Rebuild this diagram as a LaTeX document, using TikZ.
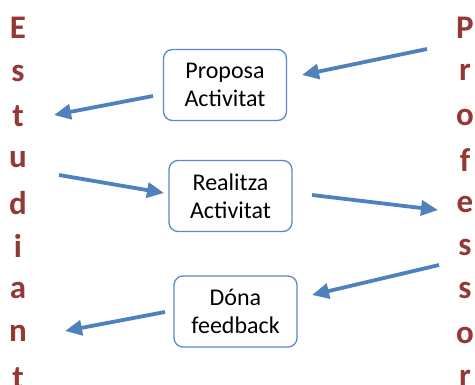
\documentclass[tikz,border=0pt]{standalone}
\usepackage{fontspec}
\setmainfont{Carlito}
\usetikzlibrary{arrows.meta}
\definecolor{arrowblue}{HTML}{4F81BD}
\definecolor{boxblue}{HTML}{5A8AC6}
\definecolor{darkred}{HTML}{953735}
\tikzset{
  stepbox/.style={draw=boxblue, line width=1.3pt, rounded corners=9pt, fill=white,
    minimum width=123pt, minimum height=71pt, align=center, font=\fontsize{24}{28}\selectfont, inner sep=0pt},
  flowarrow/.style={draw=arrowblue, line width=3.8pt, -{Triangle[length=17pt,width=15pt]}},
  vletter/.style={text=darkred, font=\fontsize{33}{33}\bfseries\selectfont, inner sep=0pt, anchor=center}
}
\begin{document}
\begin{tikzpicture}[x=1pt,y=-1pt]
\useasboundingbox (0,0) rectangle (475,385);
\clip (0,0) rectangle (475,385);
% boxes
\node[stepbox] (b1) at (225,85) {Proposa\\Activitat};
\node[stepbox] (b2) at (230.5,196) {Realitza\\Activitat};
\node[stepbox] (b3) at (235.5,311.5) {Dóna\\feedback};
% Estudiant
\foreach \ch/\yy [count=\i] in {E/28,s/73,t/116,u/160,d/203,i/246,a/290,n/333,t/378}
  \node[vletter] (e\i) at (18,\yy) {\ch\vphantom{x}};
% Professor
\foreach \ch/\yy [count=\i] in {P/28,r/72,o/117,f/160,e/204,s/247,s/290,o/335,r/378}
  \node[vletter] (p\i) at (465,\yy) {\ch\vphantom{x}};
% arrow ends
\coordinate (a1s) at (427,49);  \coordinate (a1e) at (302,75);
\coordinate (a2s) at (153,96);  \coordinate (a2e) at (54,115);
\coordinate (a3s) at (59,175);  \coordinate (a3e) at (164,193);
\coordinate (a4s) at (312,195); \coordinate (a4e) at (438,210);
\coordinate (a5s) at (439,265); \coordinate (a5e) at (312,295);
\coordinate (a6s) at (165,312); \coordinate (a6e) at (65,331);
\draw[flowarrow] (a1s) -- (a1e);
\draw[flowarrow] (a2s) -- (a2e);
\draw[flowarrow] (a3s) -- (a3e);
\draw[flowarrow] (a4s) -- (a4e);
\draw[flowarrow] (a5s) -- (a5e);
\draw[flowarrow] (a6s) -- (a6e);
\end{tikzpicture}
\end{document}
